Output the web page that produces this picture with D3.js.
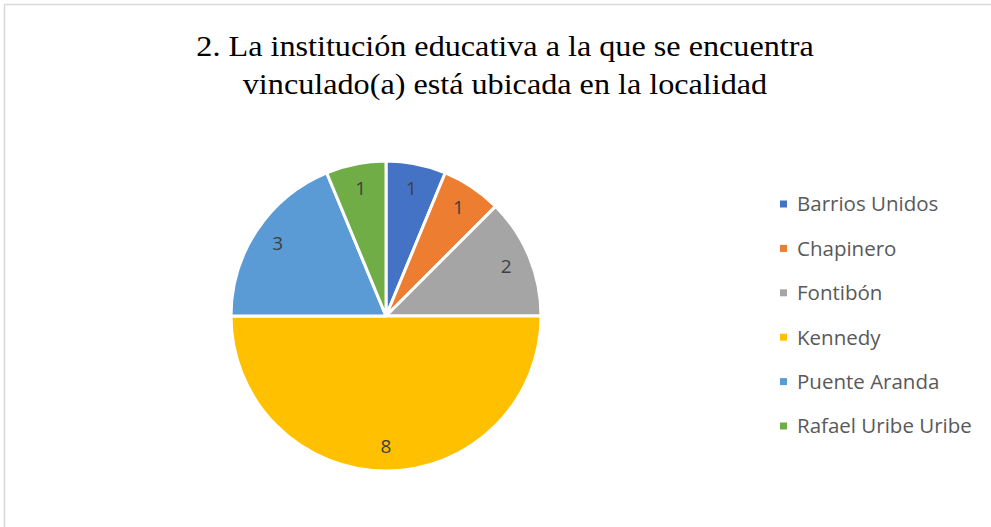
<!DOCTYPE html>
<html>
<head>
<meta charset="utf-8">
<script src="https://cdn.jsdelivr.net/npm/d3@7"></script>
<style>
  body { margin: 0; background: #fff; }
</style>
</head>
<body>
<script>
const categories = ["Barrios Unidos", "Chapinero", "Fontibón", "Kennedy", "Puente Aranda", "Rafael Uribe Uribe"];
const counts = [1, 1, 2, 8, 3, 1];
const colors = ["#4472c4", "#ed7d31", "#a5a5a5", "#ffc000", "#5b9bd5", "#70ad47"];
const titleLines = ["2. La institución educativa a la que se encuentra", "vinculado(a) está ubicada en la localidad"];

const W = 991, H = 527;
const cx = 386, cy = 316, radius = 155;

const data = categories.map((c, i) => ({ name: c, value: counts[i] }));

const svg = d3.select("body").append("svg")
    .attr("width", W)
    .attr("height", H);

// chart border
svg.append("rect")
    .attr("x", 4.5).attr("y", 4.5)
    .attr("width", W + 10).attr("height", H + 10)
    .attr("fill", "#fff")
    .attr("stroke", "#d9d9d9")
    .attr("stroke-width", 1.5);

// title
svg.append("g")
    .attr("transform", "translate(505,0) scale(1.11,1)")
    .selectAll("text")
    .data(titleLines)
    .enter().append("text")
    .attr("x", 0)
    .attr("y", (d, i) => 56 + i * 38)
    .attr("text-anchor", "middle")
    .style("font-family", "'Liberation Serif', 'Times New Roman', serif")
    .style("font-size", "29px")
    .style("fill", "#000")
    .text(d => d);

const color = d3.scaleOrdinal().domain(categories).range(colors);

const pie = d3.pie().value(d => d.value).sort(null);
const arc = d3.arc().innerRadius(0).outerRadius(radius);
const labelArc = d3.arc().innerRadius(radius * 0.84).outerRadius(radius * 0.84);

const g = svg.append("g").attr("transform", "translate(" + cx + "," + cy + ")");

const slice = g.selectAll(".slice")
    .data(pie(data))
    .enter().append("g")
    .attr("class", "slice");

slice.append("path")
    .attr("d", arc)
    .attr("fill", d => color(d.data.name))
    .attr("stroke", "#fff")
    .attr("stroke-width", 3)
    .attr("stroke-linejoin", "round");

slice.append("text")
    .attr("transform", d => "translate(" + labelArc.centroid(d) + ")")
    .attr("text-anchor", "middle")
    .attr("dy", "0.35em")
    .style("font-family", "'Open Sans', sans-serif")
    .style("font-size", "19px")
    .style("fill", "#404040")
    .text(d => d.data.value);

// legend
const legend = svg.selectAll(".legend")
    .data(categories)
    .enter().append("g")
    .attr("class", "legend")
    .attr("transform", (d, i) => "translate(780," + (204 + i * 44.4) + ")");

legend.append("rect")
    .attr("x", 0).attr("y", -3.5)
    .attr("width", 7).attr("height", 7)
    .attr("fill", d => color(d));

legend.append("text")
    .attr("x", 17)
    .attr("dy", "0.36em")
    .style("font-family", "'Open Sans', sans-serif")
    .style("font-size", "20.5px")
    .style("fill", "#595959")
    .text(d => d);
</script>
</body>
</html>
